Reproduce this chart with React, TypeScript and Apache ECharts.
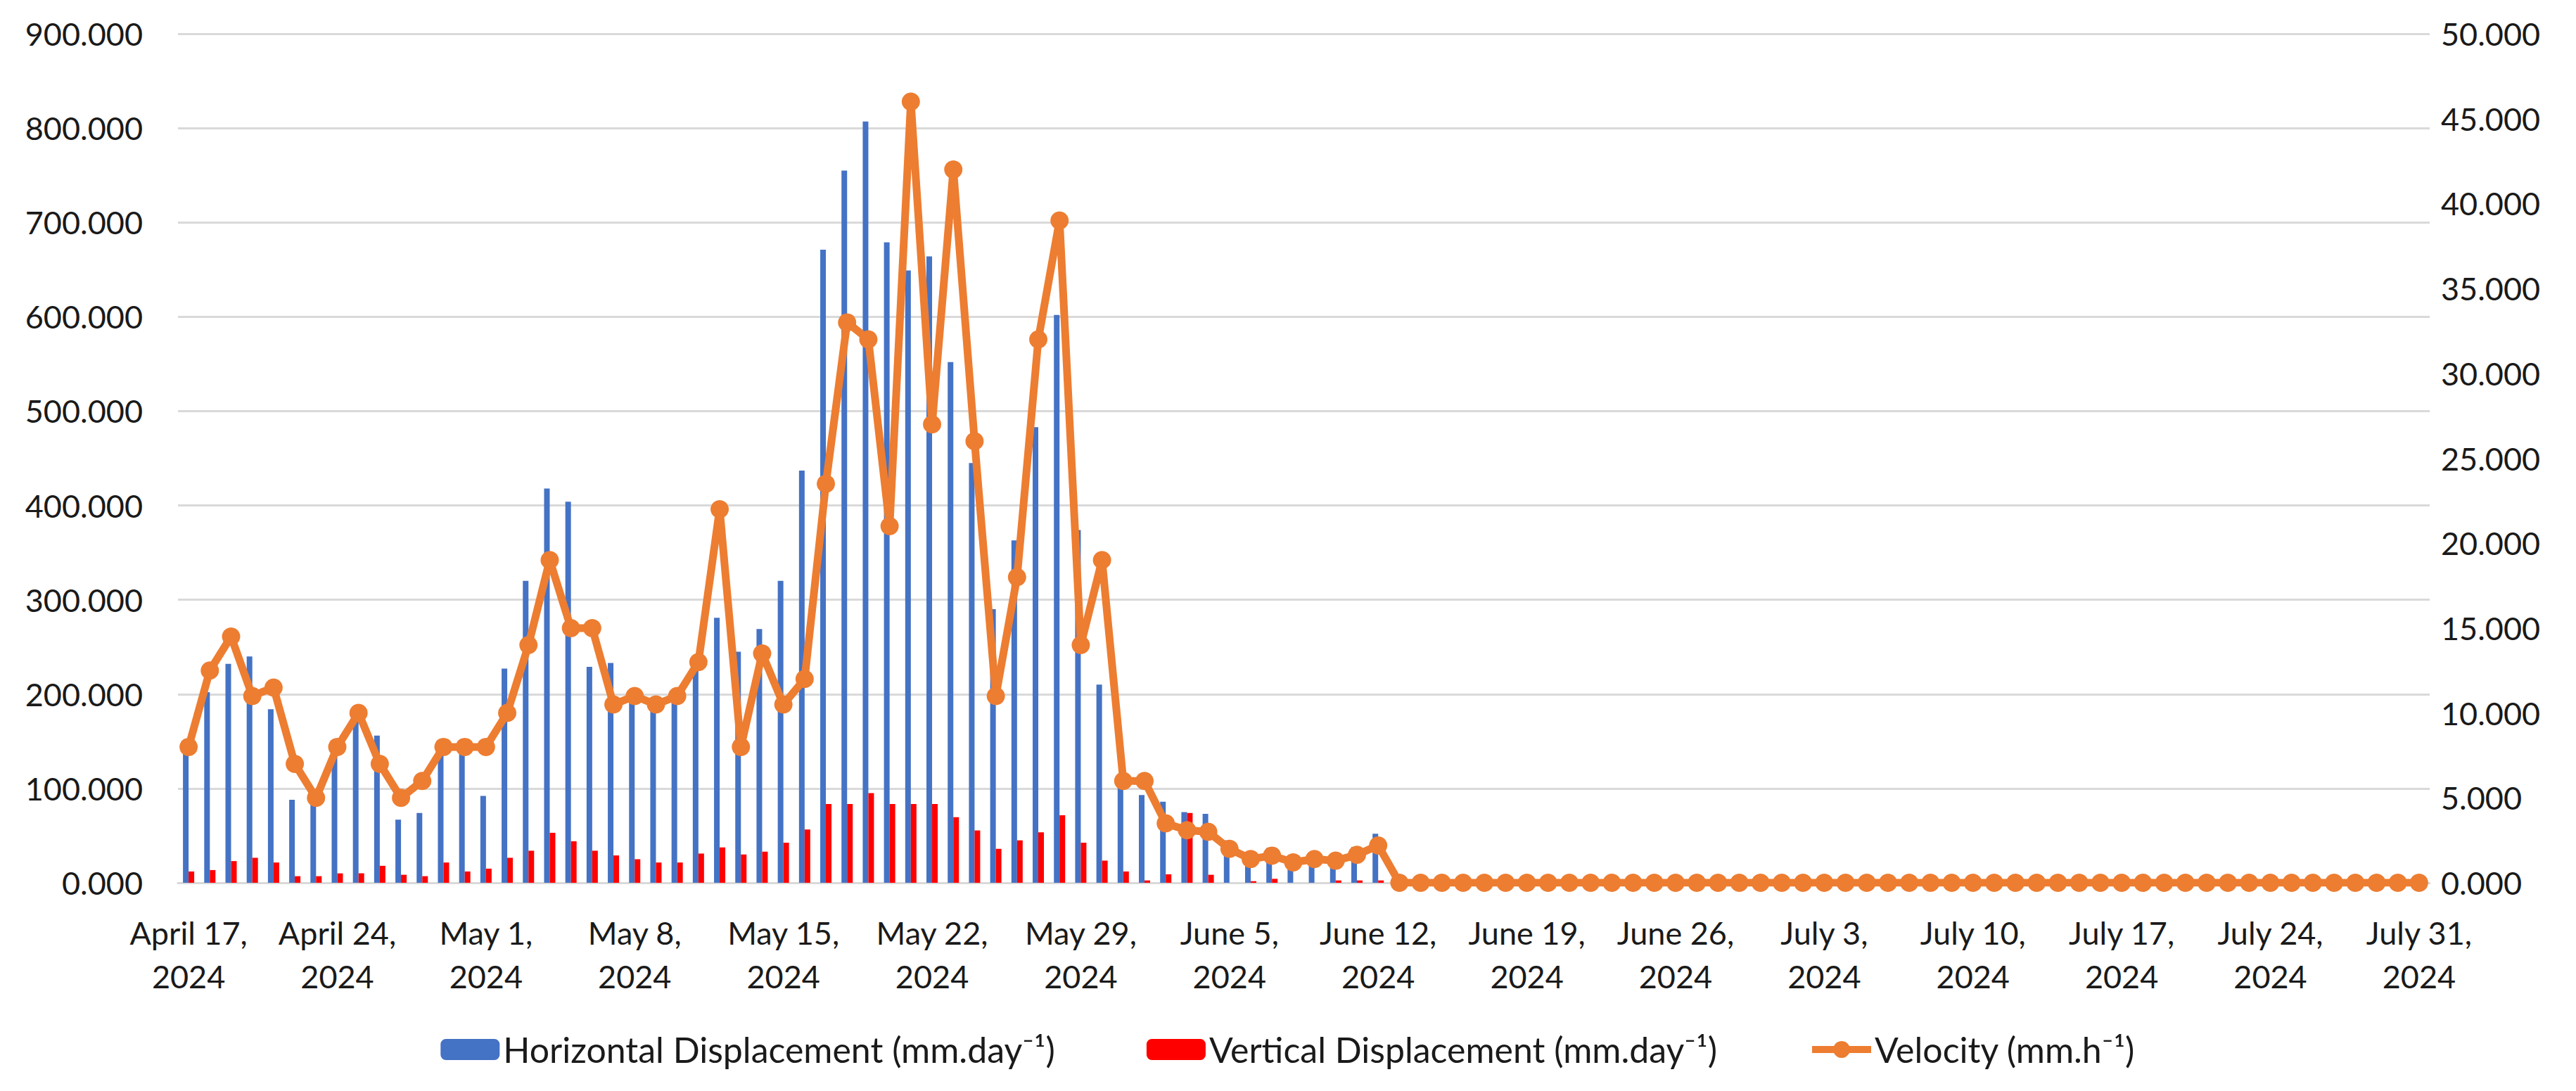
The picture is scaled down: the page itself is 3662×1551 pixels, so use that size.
import React, { useEffect, useRef } from "react";
import * as echarts from "echarts";

const dates: string[] = [
  "April 17, 2024", "April 18, 2024", "April 19, 2024", "April 20, 2024", "April 21, 2024", "April 22, 2024", "April 23, 2024",
  "April 24, 2024", "April 25, 2024", "April 26, 2024", "April 27, 2024", "April 28, 2024", "April 29, 2024", "April 30, 2024",
  "May 1, 2024", "May 2, 2024", "May 3, 2024", "May 4, 2024", "May 5, 2024", "May 6, 2024", "May 7, 2024",
  "May 8, 2024", "May 9, 2024", "May 10, 2024", "May 11, 2024", "May 12, 2024", "May 13, 2024", "May 14, 2024",
  "May 15, 2024", "May 16, 2024", "May 17, 2024", "May 18, 2024", "May 19, 2024", "May 20, 2024", "May 21, 2024",
  "May 22, 2024", "May 23, 2024", "May 24, 2024", "May 25, 2024", "May 26, 2024", "May 27, 2024", "May 28, 2024",
  "May 29, 2024", "May 30, 2024", "May 31, 2024", "June 1, 2024", "June 2, 2024", "June 3, 2024", "June 4, 2024",
  "June 5, 2024", "June 6, 2024", "June 7, 2024", "June 8, 2024", "June 9, 2024", "June 10, 2024", "June 11, 2024",
  "June 12, 2024", "June 13, 2024", "June 14, 2024", "June 15, 2024", "June 16, 2024", "June 17, 2024", "June 18, 2024",
  "June 19, 2024", "June 20, 2024", "June 21, 2024", "June 22, 2024", "June 23, 2024", "June 24, 2024", "June 25, 2024",
  "June 26, 2024", "June 27, 2024", "June 28, 2024", "June 29, 2024", "June 30, 2024", "July 1, 2024", "July 2, 2024",
  "July 3, 2024", "July 4, 2024", "July 5, 2024", "July 6, 2024", "July 7, 2024", "July 8, 2024", "July 9, 2024",
  "July 10, 2024", "July 11, 2024", "July 12, 2024", "July 13, 2024", "July 14, 2024", "July 15, 2024", "July 16, 2024",
  "July 17, 2024", "July 18, 2024", "July 19, 2024", "July 20, 2024", "July 21, 2024", "July 22, 2024", "July 23, 2024",
  "July 24, 2024", "July 25, 2024", "July 26, 2024", "July 27, 2024", "July 28, 2024", "July 29, 2024", "July 30, 2024",
  "July 31, 2024",
];

const horizontal: number[] = [
  140, 202, 232, 240, 184, 88, 86, 150, 173, 156, 67, 74, 138, 142,
  92, 227, 320, 418, 404, 229, 233, 192, 186, 192, 227, 281, 245, 269,
  320, 437, 671, 755, 807, 679, 649, 664, 552, 445, 290, 363, 483, 602,
  374, 210, 110, 93, 86, 75, 73, 45, 25, 37, 20, 22, 20, 38,
  52, 0, 0, 0, 0, 0, 0, 0, 0, 0, 0, 0, 0, 0,
  0, 0, 0, 0, 0, 0, 0, 0, 0, 0, 0, 0, 0, 0,
  0, 0, 0, 0, 0, 0, 0, 0, 0, 0, 0, 0, 0, 0,
  0, 0, 0, 0, 0, 0, 0, 0,
];

const vertical: number[] = [
  12, 13.5, 23, 26.5, 21.5, 7, 7, 10, 10, 18, 8.5, 7, 21.5, 12,
  15, 26.5, 34, 53, 44, 34, 29, 25, 21.5, 21.5, 31, 37.5, 30, 33,
  42.5, 56.5, 83.5, 83.5, 95, 83.5, 83.5, 83.5, 69.5, 55.5, 36, 45, 53.5, 71.5,
  42.5, 23.5, 12, 2.5, 9, 74, 8.5, 0, 1.7, 4.2, 0, 0, 2.5, 2.5,
  2.5, 0, 0, 0, 0, 0, 0, 0, 0, 0, 0, 0, 0, 0,
  0, 0, 0, 0, 0, 0, 0, 0, 0, 0, 0, 0, 0, 0,
  0, 0, 0, 0, 0, 0, 0, 0, 0, 0, 0, 0, 0, 0,
  0, 0, 0, 0, 0, 0, 0, 0,
];

const velocity: number[] = [
  8, 12.5, 14.5, 11, 11.5, 7, 5, 8, 10, 7, 5, 6, 8, 8,
  8, 10, 14, 19, 15, 15, 10.5, 11, 10.5, 11, 13, 22, 8, 13.5,
  10.5, 12, 23.5, 33, 32, 21, 46, 27, 42, 26, 11, 18, 32, 39,
  14, 19, 6, 6, 3.5, 3.1, 3, 2, 1.4, 1.6, 1.2, 1.4, 1.3, 1.65,
  2.2, 0, 0, 0, 0, 0, 0, 0, 0, 0, 0, 0, 0, 0,
  0, 0, 0, 0, 0, 0, 0, 0, 0, 0, 0, 0, 0, 0,
  0, 0, 0, 0, 0, 0, 0, 0, 0, 0, 0, 0, 0, 0,
  0, 0, 0, 0, 0, 0, 0, 0,
];

const seriesNames = [
  "Horizontal Displacement (mm.day⁻¹)",
  "Vertical Displacement (mm.day⁻¹)",
  "Velocity (mm.h⁻¹)",
];

const FONT = "Lato, 'DejaVu Sans', sans-serif";

export default function App() {
  const ref = useRef<HTMLDivElement>(null);
  useEffect(() => {
    if (!ref.current) return;
    const chart = echarts.init(ref.current, undefined, { renderer: "svg" });
    chart.setOption({
      animation: false,
      backgroundColor: "#ffffff",
      textStyle: { fontFamily: FONT },
      grid: { left: 253, right: 208, top: 48, bottom: 296, containLabel: false },
      legend: {
        data: [
          { name: seriesNames[0] },
          { name: seriesNames[1] },
          { name: seriesNames[2], lineStyle: { width: 10, color: "#ED7D31" } },
        ],
        left: "center",
        top: 1462,
        itemWidth: 84,
        itemHeight: 30,
        itemGap: 130,
        textStyle: { fontFamily: FONT, fontSize: 50, color: "#1a1a1a" },
      },
      xAxis: {
        type: "category",
        data: dates,
        boundaryGap: true,
        axisTick: { show: false },
        axisLine: { show: true, lineStyle: { color: "#d9d9d9", width: 3 } },
        axisLabel: {
          interval: 6,
          fontFamily: FONT,
          fontSize: 45,
          lineHeight: 62,
          color: "#1a1a1a",
          margin: 40,
          formatter: (v: string) => v.replace(", ", ",\n"),
        },
      },
      yAxis: [
        {
          type: "value",
          min: 0,
          max: 900,
          interval: 100,
          axisLine: { show: false },
          axisTick: { show: false },
          splitLine: { lineStyle: { color: "#d9d9d9", width: 3 } },
          axisLabel: {
            fontFamily: FONT,
            fontSize: 45,
            color: "#1a1a1a",
            margin: 50,
            formatter: (v: number) => v.toFixed(3),
          },
        },
        {
          type: "value",
          min: 0,
          max: 50,
          interval: 5,
          axisLine: { show: false },
          axisTick: { show: false },
          splitLine: { show: false },
          axisLabel: {
            fontFamily: FONT,
            fontSize: 45,
            color: "#1a1a1a",
            margin: 16,
            formatter: (v: number) => v.toFixed(3),
          },
        },
      ],
      series: [
        {
          name: seriesNames[0],
          type: "bar",
          data: horizontal,
          yAxisIndex: 0,
          barWidth: 8,
          barGap: "0%",
          itemStyle: { color: "#4472C4" },
        },
        {
          name: seriesNames[1],
          type: "bar",
          data: vertical,
          yAxisIndex: 0,
          barWidth: 8,
          barGap: "0%",
          itemStyle: { color: "#FF0000" },
        },
        {
          name: seriesNames[2],
          type: "line",
          data: velocity,
          yAxisIndex: 1,
          symbol: "circle",
          symbolSize: 26,
          showAllSymbol: true,
          lineStyle: { color: "#ED7D31", width: 11 },
          itemStyle: { color: "#ED7D31" },
          z: 5,
        },
      ],
    });
    return () => chart.dispose();
  }, []);
  return (
    <div
      ref={ref}
      style={{ position: "fixed", left: 0, top: 0, width: 3662, height: 1551, background: "#fff" }}
    />
  );
}
